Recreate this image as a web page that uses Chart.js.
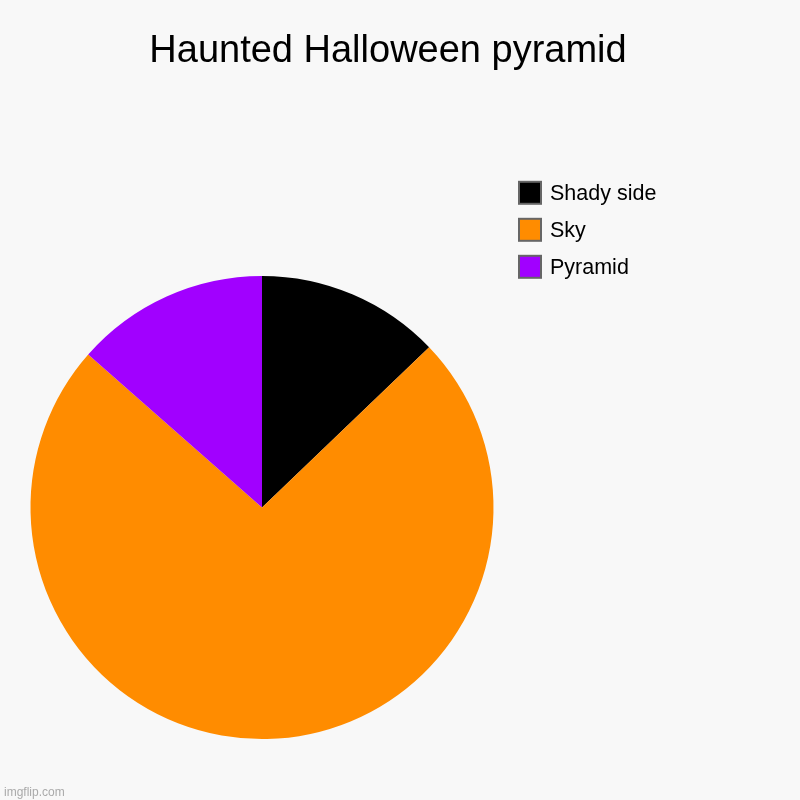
<!DOCTYPE html>
<html>
<head>
<meta charset="utf-8">
<script src="https://cdn.jsdelivr.net/npm/chart.js@4/dist/chart.umd.min.js"></script>
<style>
  html, body { margin: 0; padding: 0; background: #f8f8f8; }
  #wrap { position: relative; width: 800px; height: 800px; }
</style>
</head>
<body>
<div id="wrap"><canvas id="pie" width="800" height="800"></canvas></div>
<script>
const chartTitle = 'Haunted Halloween pyramid';
const labels = ['Shady side', 'Sky', 'Pyramid'];
const values = [19, 109, 20];
const colors = ['#000000', '#ff8c00', '#a100ff'];

// title, legend and watermark drawn on the same canvas
const decorations = {
  id: 'decorations',
  beforeDraw(chart) {
    const c = chart.ctx;
    c.save();
    c.fillStyle = '#f8f8f8';
    c.fillRect(0, 0, chart.width, chart.height);
    c.restore();
  },
  afterDraw(chart) {
    const c = chart.ctx;
    c.save();
    c.fillStyle = '#000';
    c.textAlign = 'center';
    c.textBaseline = 'alphabetic';
    c.font = '38px "Liberation Sans", Arial, sans-serif';
    c.fillText(chartTitle, 388, 62);

    const ds = chart.data.datasets[0];
    c.textAlign = 'left';
    c.textBaseline = 'middle';
    c.font = '21.5px "Liberation Sans", Arial, sans-serif';
    chart.data.labels.forEach((lab, i) => {
      const y = 192.8 + i * 37;
      c.fillStyle = '#666';
      c.fillRect(518, y - 12, 24, 24);
      c.fillStyle = ds.backgroundColor[i];
      c.fillRect(520, y - 10, 20, 20);
      c.fillStyle = '#000';
      c.fillText(lab, 550, y + 1.5);
    });

    c.fillStyle = '#aaa';
    c.font = '12px "Liberation Sans", Arial, sans-serif';
    c.textBaseline = 'alphabetic';
    c.fillText('imgflip.com', 4, 796);
    c.restore();
  }
};

new Chart(document.getElementById('pie'), {
  type: 'pie',
  data: {
    labels: labels,
    datasets: [{
      data: values,
      backgroundColor: colors,
      borderWidth: 0
    }]
  },
  options: {
    responsive: false,
    animation: false,
    layout: { padding: { left: 30, right: 306, top: 276, bottom: 61 } },
    plugins: {
      legend: { display: false },
      title: { display: false },
      tooltip: { enabled: false }
    }
  },
  plugins: [decorations]
});
</script>
</body>
</html>
